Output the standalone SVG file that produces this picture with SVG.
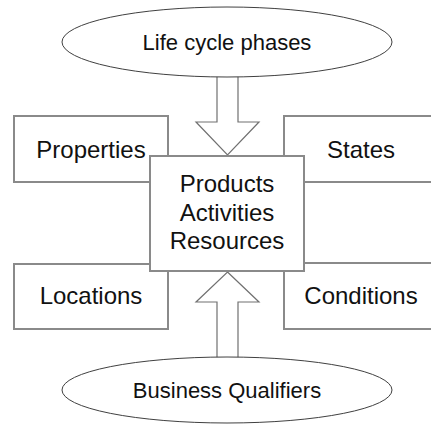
<svg xmlns="http://www.w3.org/2000/svg" width="431" height="426" viewBox="0 0 431 426">
<style>
.box{fill:#fff;stroke:#8a8a8a;stroke-width:2}
.ell{fill:#fff;stroke:#404040;stroke-width:1}
.arr{fill:#fff;stroke:#707070;stroke-width:1.2}
text{font-family:"Liberation Sans",Arial,sans-serif;font-size:22px;fill:#111;text-anchor:middle}
.bt{font-size:24px}
</style>
<rect width="431" height="426" fill="#fff"/>
<g id="properties"><rect class="box" x="14" y="116" width="154" height="66"/><text class="bt" x="91" y="158">Properties</text></g>
<g id="states"><rect class="box" x="284" y="116" width="160" height="66"/><text class="bt" x="361" y="158">States</text></g>
<g id="locations"><rect class="box" x="14" y="264" width="154" height="65"/><text class="bt" x="91" y="304">Locations</text></g>
<g id="conditions"><rect class="box" x="284" y="263" width="160" height="66"/><text class="bt" x="361" y="304">Conditions</text></g>
<g id="connectors">
<polygon class="arr" points="217,76 238,76 238,122 259,122 227.5,155 196,122 217,122"/>
<polygon class="arr" points="227.5,272 259,302 238,302 238,358 217,358 217,302 196,302"/>
</g>
<g id="center"><rect class="box" x="150" y="156" width="154" height="115"/>
<text class="bt" x="227" y="192">Products</text><text class="bt" x="227" y="220.5">Activities</text><text class="bt" x="227" y="249">Resources</text></g>
<g id="lifecycle"><ellipse class="ell" cx="227" cy="42" rx="165" ry="35"/><text x="227" y="50">Life cycle phases</text></g>
<g id="business"><ellipse class="ell" cx="227" cy="390" rx="165" ry="33"/><text x="227" y="398">Business Qualifiers</text></g>
</svg>
